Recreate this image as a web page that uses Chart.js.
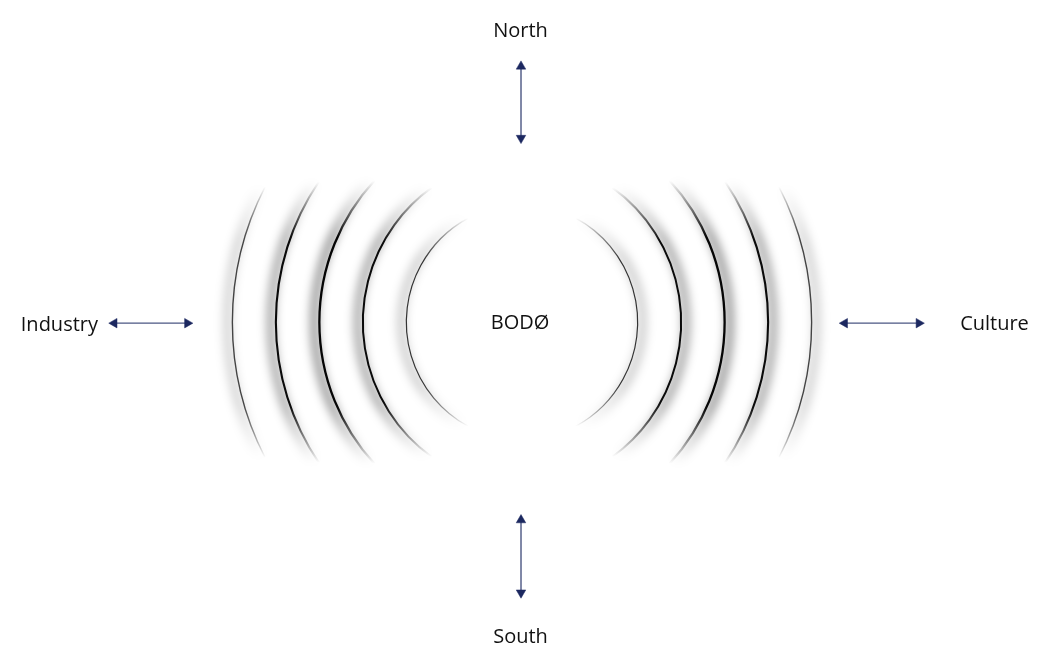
<!DOCTYPE html>
<html>
<head>
<meta charset="utf-8">
<script src="https://cdn.jsdelivr.net/npm/chart.js@4/dist/chart.umd.min.js"></script>
<style>
  html, body { margin: 0; padding: 0; background: #fff; }
  #wrap { width: 1043px; height: 665px; position: relative; }
</style>
</head>
<body>
<div id="wrap"><canvas id="diagram"></canvas></div>
<script>
// centre of the figure (BODØ) is 0,0 ; y goes up
const labels = ['North', 'South', 'Industry', 'Culture', 'BODØ']
const labelX = [-1.5, -1.5, -468, 478, -2]
const labelY = [290, -327, -9, -8, -7]

// arrows: tip to tip
const arrowX1 = [-1, -1, -418, 321]
const arrowY1 = [266, -196, -1, -1]
const arrowX2 = [-1, -1, -333, 407]
const arrowY2 = [182, -281, -1, -1]

// the wave arcs, inner to outer (same on both sides)
const arcApex = [117, 161, 205, 249, 293]
const arcRadius = [120, 168, 212, 254, 300]
const arcHalfHeight = [106, 137, 144, 143, 138]

// look of the arcs
const arcWidths = [1.2, 2, 2.3, 2.1, 1.4]
const arcShades = ['#333333', '#0a0a0a', '#050505', '#0a0a0a', '#444444']
const arcShadow = [0.18, 0.32, 0.38, 0.32, 0.16]

const headSize = 5.5
const arrowShaft = '#4b5683'
const arrowHead = '#1c2860'

const arrowSets = arrowX1.map((x1, i) => {
    const dx = arrowX2[i] - x1
    const dy = arrowY2[i] - arrowY1[i]
    const len = Math.sqrt(dx * dx + dy * dy)
    const ux = dx / len, uy = dy / len
    // triangle point style has its tip headSize away from the point
    const ang1 = Math.atan2(-ux, -uy) * 180 / Math.PI
    const ang2 = Math.atan2(ux, uy) * 180 / Math.PI
    return {
        type: 'line',
        data: [
            { x: x1 + ux * headSize, y: arrowY1[i] + uy * headSize },
            { x: arrowX2[i] - ux * headSize, y: arrowY2[i] - uy * headSize },
        ],
        borderColor: arrowShaft,
        borderWidth: 1.4,
        pointStyle: 'triangle',
        pointRadius: headSize,
        pointRotation: [ang1, ang2],
        pointBackgroundColor: arrowHead,
        pointBorderColor: arrowHead,
        pointBorderWidth: 0.5,
        showLine: true,
    }
})

function fadeGradient(ctx, cy, hPx, colour) {
    const grad = ctx.createLinearGradient(0, cy - hPx, 0, cy + hPx)
    grad.addColorStop(0, 'rgba(0,0,0,0)')
    grad.addColorStop(0.2, colour)
    grad.addColorStop(0.8, colour)
    grad.addColorStop(1, 'rgba(0,0,0,0)')
    return grad
}

const wavesPlugin = {
    id: 'waves',
    beforeDatasetsDraw(chart) {
        const ctx = chart.ctx
        const xs = chart.scales.x, ys = chart.scales.y
        const px = v => xs.getPixelForValue(v)
        const py = v => ys.getPixelForValue(v)
        ;[-1, 1].forEach(side => {
            arcApex.forEach((apex, i) => {
                const r = arcRadius[i]
                const h = arcHalfHeight[i]
                const cx = px(side * (apex - r))
                const cy = py(0)
                const rPx = Math.abs(px(r) - px(0))
                const hPx = Math.abs(py(h) - py(0))
                const a = Math.asin(Math.min(1, hPx / rPx))
                const from = side < 0 ? Math.PI - a : -a
                const to = side < 0 ? Math.PI + a : a

                // soft shadow, pushed outward
                ctx.save()
                ctx.filter = 'blur(5px)'
                ctx.strokeStyle = fadeGradient(ctx, cy, hPx, 'rgba(0,0,0,' + arcShadow[i] + ')')
                ctx.lineWidth = 9
                ctx.beginPath()
                ctx.arc(cx + side * 5, cy, rPx, from, to)
                ctx.stroke()
                ctx.restore()

                ctx.save()
                ctx.strokeStyle = fadeGradient(ctx, cy, hPx, arcShades[i])
                ctx.lineWidth = arcWidths[i]
                ctx.beginPath()
                ctx.arc(cx, cy, rPx, from, to)
                ctx.stroke()
                ctx.restore()
            })
        })
    },
}

const textPlugin = {
    id: 'texts',
    afterDatasetsDraw(chart) {
        const ctx = chart.ctx
        const xs = chart.scales.x, ys = chart.scales.y
        ctx.save()
        ctx.fillStyle = '#111111'
        ctx.font = '20px "Open Sans"'
        ctx.textAlign = 'center'
        ctx.textBaseline = 'alphabetic'
        labels.forEach((t, i) => {
            ctx.fillText(t, xs.getPixelForValue(labelX[i]), ys.getPixelForValue(labelY[i]))
        })
        ctx.restore()
    },
}

const diagramConfig = {
    type: 'scatter',
    data: { datasets: arrowSets },
    options: {
        responsive: true,
        maintainAspectRatio: false,
        animation: false,
        layout: { padding: 0 },
        scales: {
            x: { type: 'linear', min: -522, max: 521, display: false },
            y: { type: 'linear', min: -343, max: 322, display: false },
        },
        plugins: {
            legend: { display: false },
            tooltip: { enabled: false },
        },
        events: [],
    },
    plugins: [wavesPlugin, textPlugin],
}

const diagramCtx = document.getElementById('diagram')
window.myDiagram = new Chart(diagramCtx, diagramConfig)
</script>
</body>
</html>
